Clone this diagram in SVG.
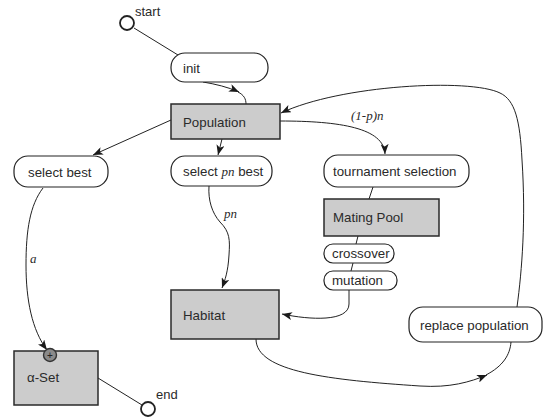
<svg xmlns="http://www.w3.org/2000/svg" width="546" height="418" viewBox="0 0 546 418">
<defs>
<marker id="ah" viewBox="0 0 10 8" refX="10" refY="4" markerWidth="10" markerHeight="8" markerUnits="userSpaceOnUse" orient="auto">
<path d="M0,0 L10,4 L0,8 L2.5,4 Z" fill="#1a1a1a"/>
</marker>
</defs>
<style>
.box{fill:#cccccc;stroke:#2a2a2a;stroke-width:1.5}
.rnd{fill:#fff;stroke:#222;stroke-width:1.2}
.t{font-family:"Liberation Sans",Arial,sans-serif;font-size:13.3px;fill:#2a2a2a}
.s{font-family:"Liberation Sans",Arial,sans-serif;font-size:13px;fill:#2a2a2a}
.i{font-family:"Liberation Serif","Times New Roman",serif;font-style:italic;font-size:13px;fill:#2a2a2a}
.c{fill:none;stroke:#222;stroke-width:1}
.a{fill:none;stroke:#222;stroke-width:1;marker-end:url(#ah)}
.term{fill:#fff;stroke:#222;stroke-width:1.8}
</style>
<g id="connectors">
<path class="c" d="M134,28 L178,55"/>
<path class="a" d="M203,82 C215,84 228,87 239,92"/>
<path class="c" d="M238,92 C244,95 246,99 246,104"/>
<path class="a" d="M171,120 L93,155"/>
<path class="a" d="M222,139 L218,155"/>
<path class="a" d="M280,121 C340,121 384,128 385,154"/>
<path class="a" d="M517,307 C522,270 526,220 522,160 C520,120 515,100 500,93 C470,78 340,85 281,113"/>
<path class="c" d="M373,187 L369,199"/>
<path class="c" d="M358,236 L356,244"/>
<path class="c" d="M353,263 L351,271"/>
<path class="a" d="M349,290 L349,304 C349,322 310,320 282,314"/>
<path class="a" d="M209,186 C208,200 212,213 220,222 C230,232 230,240 229,255 C228,272 225,280 222,288"/>
<path class="a" d="M43,188 C30,205 26,230 26,265 C26,300 32,330 47,350"/>
<path class="a" d="M256,339 C256,372 330,380 420,386 C450,388 470,382 487,375"/>
<path class="c" d="M486,375 C503,366 510,355 511,342"/>
<path class="c" d="M98,378 L142,405"/>
</g>
<g id="start">
<circle class="term" cx="127" cy="23" r="7"/>
<text class="s" x="135" y="16">start</text>
</g>
<g id="init">
<rect class="rnd" x="171" y="53" width="97" height="29" rx="14"/>
<text class="t" x="183" y="73">init</text>
</g>
<g id="population">
<rect class="box" x="171" y="104" width="109" height="35"/>
<text class="t" x="183" y="127">Population</text>
</g>
<g id="select-best">
<rect class="rnd" x="14" y="156" width="94" height="31" rx="14"/>
<text class="t" x="28" y="177">select best</text>
</g>
<g id="select-pn-best">
<rect class="rnd" x="171" y="156" width="101" height="30" rx="14"/>
<text class="t" x="183" y="176">select <tspan class="i">pn</tspan> best</text>
</g>
<g id="tournament-selection">
<rect class="rnd" x="324" y="155" width="145" height="32" rx="14"/>
<text class="t" x="333" y="176">tournament selection</text>
</g>
<g id="mating-pool">
<rect class="box" x="324" y="199" width="115" height="37"/>
<text class="t" x="333" y="222">Mating Pool</text>
</g>
<g id="crossover">
<rect class="rnd" x="324" y="244" width="70" height="19" rx="9"/>
<text class="t" x="332" y="258">crossover</text>
</g>
<g id="mutation">
<rect class="rnd" x="324" y="271" width="73" height="19" rx="9"/>
<text class="t" x="332" y="285">mutation</text>
</g>
<g id="habitat">
<rect class="box" x="171" y="290" width="108" height="49"/>
<text class="t" x="183" y="320">Habitat</text>
</g>
<g id="replace-population">
<rect class="rnd" x="409" y="307" width="133" height="35" rx="14"/>
<text class="t" x="420" y="330">replace population</text>
</g>
<g id="alpha-set">
<rect class="box" x="14" y="351" width="84" height="54"/>
<text class="t" x="27" y="382">α-Set</text>
<circle cx="50" cy="355" r="6.5" fill="#8a8a8a" stroke="#333" stroke-width="1.4"/>
<text x="50" y="359" text-anchor="middle" font-family="Liberation Sans,Arial,sans-serif" font-size="10" fill="#222">+</text>
</g>
<g id="end">
<circle class="term" cx="148" cy="409" r="7"/>
<text class="s" x="156" y="399">end</text>
</g>
<g id="labels">
<text class="i" x="351" y="120">(1-p)n</text>
<text class="i" x="224" y="218">pn</text>
<text class="i" x="30" y="263">a</text>
</g>
</svg>
